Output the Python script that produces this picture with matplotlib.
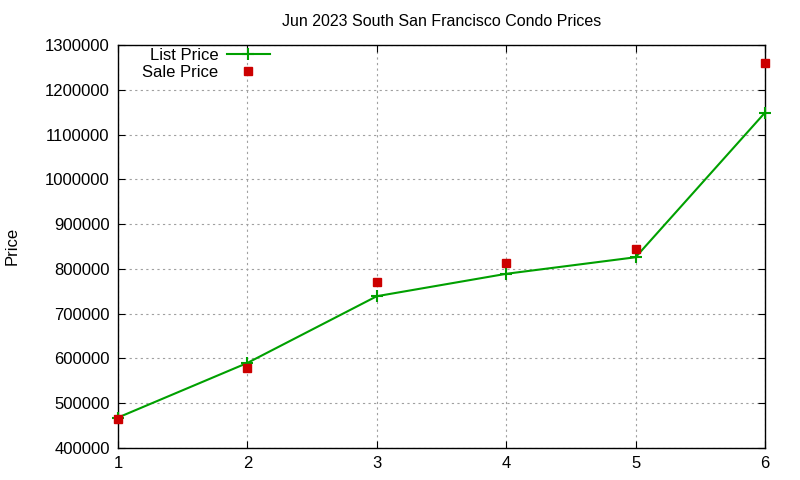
import matplotlib
matplotlib.use('Agg')
import matplotlib.pyplot as plt
from matplotlib.ticker import FormatStrFormatter

plt.rcParams['font.family'] = ['Liberation Sans', 'DejaVu Sans']

# data
bedrooms = [1, 2, 3, 4, 5, 6]
list_price = [468000, 590000, 739000, 789000, 826000, 1149000]
sale_price = [465000, 579000, 771000, 813000, 844000, 1260000]

fig = plt.figure(figsize=(8, 4.8), dpi=100)
ax = fig.add_axes([118/800, 1 - 448/480, (765-118)/800, (448-45)/480])

ax.plot(bedrooms, list_price, color='#00a000', linewidth=1.5, marker='+',
        markersize=9, markeredgewidth=1.5, label='List Price', clip_on=False, zorder=3)
ax.plot(bedrooms, sale_price, linestyle='none', marker='s', markersize=6,
        color='#cc0000', label='Sale Price', clip_on=False, zorder=3)

ax.set_xlim(1, 6)
ax.set_ylim(400000, 1300000)
ax.set_xticks(bedrooms)
ax.set_yticks(range(400000, 1300001, 100000))
ax.yaxis.set_major_formatter(FormatStrFormatter('%d'))
ax.tick_params(direction='in', top=True, right=True, labelsize=12, length=5, pad=6)
ax.grid(True, color='#a0a0a0', linestyle=(0, (2, 3)), linewidth=0.8)
for s in ax.spines.values():
    s.set_linewidth(1.0)

ax.set_title('Jun 2023 South San Francisco Condo Prices', fontsize=11.5, pad=14)
fig.text(12/800, 1 - 246/480, 'Price', rotation=90, fontsize=12,
         ha='center', va='center')

ax.legend(loc='upper left', frameon=False, markerfirst=False, fontsize=12,
          handlelength=2.6, borderaxespad=0.0, labelspacing=0.15,
          handletextpad=0.5, bbox_to_anchor=(0.027, 1.01))

fig.savefig('out.png', dpi=100)
